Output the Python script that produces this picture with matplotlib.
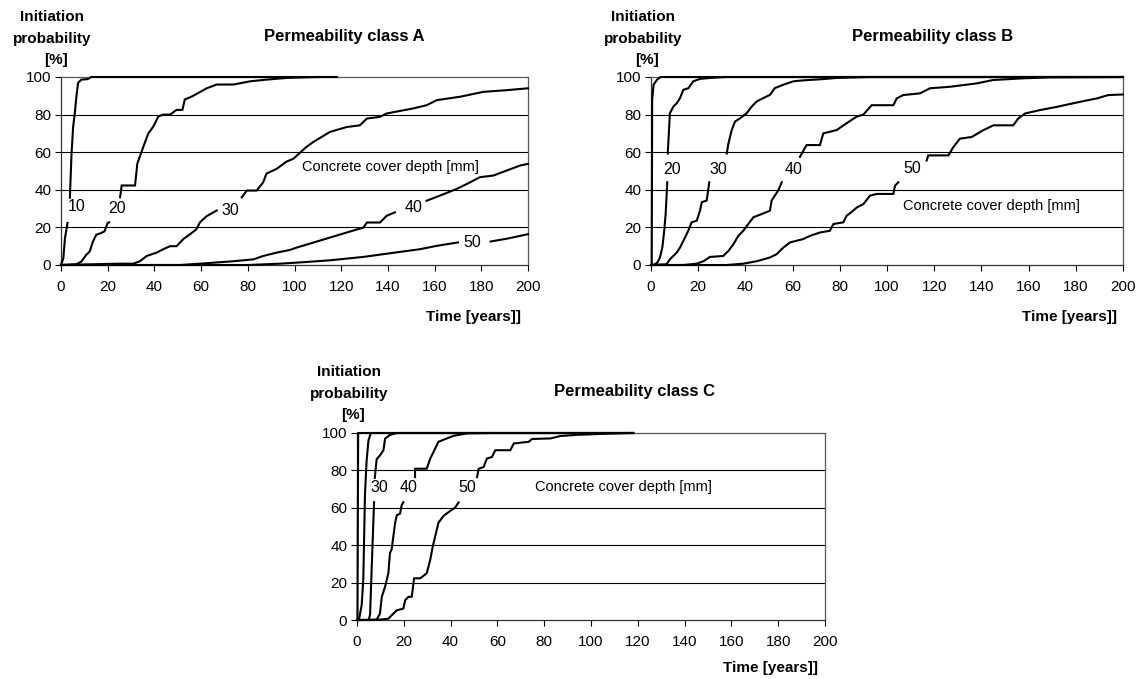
import numpy as np
import matplotlib
matplotlib.use("Agg")
import matplotlib.pyplot as plt

nan = np.nan

# ---------------- DATA ----------------
x_ticks = [0, 20, 40, 60, 80, 100, 120, 140, 160, 180, 200]
y_ticks = [0, 20, 40, 60, 80, 100]
cover_depths = ["10", "20", "30", "40", "50"]

# Permeability class A (time in years, probability in %)
A10_t = [0, 1, 1.7, 2.8, nan, 3.8, 4.5, 5.2, 5.9, 6.6, 7.3, 8.7, 11.5, 13, 118]
A10_p = [0, 3.6, 14.3, 22.4, nan, 35.8, 59, 73.5, 80.6, 89.6, 96.8, 98.6, 98.9, 100, 100]
A20_t = [0, 6.6, 8.7, 10.8, 12.3, 13.7, 15.1, 17.2, 18.6, 20, 20.6, nan,
         25.3, 26, 31.7, 32.7, 35.3, 37.4, 39.5, 41.7, 43.8, 46.7, 49.5, 52, 53, 56,
         59.5, 62.4, 66.7, 73.8, 81, 88, 96.6, 110, 118]
A20_p = [0, 0.4, 1.8, 5.4, 7.2, 12.5, 16.1, 17, 17.9, 22.4, 22.7, nan,
         36, 42.3, 42.3, 54, 63, 70, 73.6, 79, 80, 80, 82.5, 82.5, 88, 89.6,
         92, 94, 96, 96, 97.7, 98.6, 99.5, 100, 100]
A30_t = [0, 24.6, 31, 33.8, 36.7, 41, 43.8, 46.7, 49.5, 52.4, 55.3, 58, 59.5, 62.4, 65.3, 66.7, nan,
         77.4, 79.6, 83.8, 86.6, 88, 92.4, 96.6, 99.5, 105, 108, 115.2, 122.4, 128, 131, 136.6,
         139.5, 150.9, 156.6, 161, 170.9, 180.9, 190.9, 200]
A30_p = [0, 0.7, 0.7, 2, 4.8, 6.6, 8.4, 10, 10, 13.8, 16.4, 19, 22.7, 26, 28, 29, nan,
         36, 39.6, 39.6, 44, 48.6, 51.2, 55, 56.5, 62.7, 65.4, 70.8, 73.4, 74.3, 77.9, 78.8,
         80.6, 83.3, 85, 87.7, 89.5, 92.1, 93, 94]
A40_t = [0, 51, 59.5, 73.8, 82.4, 86.6, 92.4, 98, 101, 108, 115.2, 122.4, 129.5, 131, 136.6, 139.5, 143, nan,
         156.6, 162.3, 169.5, 173.8, 179.4, 185.2, 191, 196.6, 200]
A40_p = [0, 0, 0.7, 2, 3, 4.8, 6.6, 8, 9.3, 11.9, 14.6, 17.3, 19.9, 22.6, 22.6, 26.2, 28, nan,
         34.2, 36.9, 40.5, 43.1, 46.7, 47.6, 50.3, 52.9, 53.8]
A50_t = [0, 80, 93.8, 105, 115.2, 129.5, 143, 153.7, 161, 170, nan, 184, 191, 200]
A50_p = [0, 0, 0.7, 1.6, 2.5, 4.3, 6.6, 8.4, 10.2, 12, nan, 12.5, 14, 16.4]

# Permeability class B
B10_t = [0, 0.3, 0.5, 1.1, 2.6, 4, 200]
B10_p = [0, 0, 88, 96, 98.6, 100, 100]
B20_t = [0, 1, 2.7, 3.8, 4.8, 5.6, 6.2, 6.9, nan,
         7.1, 8, 9.5, 10.9, 12.3, 13.7, 15.8, 17.9, 20.8, 25, 32, 200]
B20_p = [0, 0, 1.3, 4, 9.3, 18.2, 27, 44, nan,
         59.3, 80.7, 84.3, 86, 88.8, 93.2, 94, 97.7, 99, 99.5, 100, 100]
B30_t = [0, 6.6, 8, 10.9, 12.3, 14.4, 15.8, 17.2, 19.4, 20.8, 21.5, 23.6, 24.7, nan,
         32.1, 32.8, 34.2, 35.6, 37.7, 40.5, 42.7, 44.8, 47.6, 50.4, 52.5, 56.1, 60.3,
         64.5, 73, 78.7, 92.8, 200]
B30_p = [0, 0.4, 3, 6.6, 9.3, 14.6, 18.2, 22.7, 23.6, 29, 33.4, 34.3, 44, nan,
         59.3, 64.6, 71.8, 76.3, 78, 80.7, 84.3, 87, 88.8, 90.5, 94.1, 95.9, 97.7,
         98.2, 98.9, 99.5, 100, 100]
B40_t = [0, 13.7, 19.4, 22.2, 25, 30.6, 32.8, 34.9, 37, 39.1, 41.2, 43.4, 46.9, 50.4, 51.1, 53.9, 55.4, nan,
         63.1, 65.9, 71.6, 73, 78.7, 82.9, 87.1, 90, 93.5, 102.7, 104.1, 106.9, 114, 118.2,
         126.7, 138, 145, 157.8, 169, 200]
B40_p = [0, 0, 0.7, 2, 4.3, 4.8, 7.5, 11, 15.5, 18.2, 21.8, 25.4, 27.1, 28.9, 34.3, 39.6, 44, nan,
         57.5, 63.8, 63.8, 70, 71.8, 75.4, 78.9, 80, 85, 85, 88.6, 90.4, 91.3, 94,
         94.8, 96.6, 98.4, 99.3, 99.8, 100]
B50_t = [0, 32.1, 39.1, 44.8, 50.4, 53.2, 56.1, 58.9, 64.5, 67.4, 71.6, 75.8, 77.3, 81.5, 82.9,
         85.7, 87.2, 90, 92.8, 95.6, 102.7, 103.4, 104.8, nan,
         116.8, 117.5, 126, 128.1, 130.9, 135.9, 140.8, 145.1, 153.5, 155.6, 158.5, 164.8,
         171.9, 181.8, 188.9, 193.8, 200]
B50_p = [0, 0, 0.7, 2, 4, 5.7, 9.3, 12, 13.8, 15.5, 17.3, 18.2, 21.8, 22.7, 26.2,
         28.9, 30.6, 32.4, 36.9, 37.8, 37.8, 42.2, 44, nan,
         55.6, 58.3, 58.3, 62.7, 67.2, 68.1, 71.7, 74.3, 74.3, 77.9, 80.6, 82.4,
         84.1, 86.8, 88.6, 90.4, 90.7]

# Permeability class C
C10_t = [0, 0.2, 0.5, 118]
C10_p = [0, 0, 100, 100]
C20_t = [0, 0.8, 2, 2.7, 3.4, 4.1, 4.9, 5.9, 118]
C20_p = [0, 0, 8, 22, 67, 85, 96, 100, 100]
C30_t = [0, 5, 5.6, 6.3, 7.3, nan, 7.6, 8.4, 9.8, 11.3, 12, 14.1, 17, 118]
C30_p = [0, 0, 3, 28.6, 63, nan, 76, 86, 88, 90.8, 97, 99, 100, 100]
C40_t = [0, 5.6, 8.4, 9.8, 10.6, 12, 13.4, 14.1, 14.8, 16.3, 17, 18.4, 19.1, 19.8, nan,
         24.8, 24.8, 29.8, 31.3, 32.7, 34.8, 38.4, 41.3, 47, 57, 118]
C40_p = [0, 0, 0.2, 3.4, 12.4, 17.8, 25, 35.9, 37.7, 52, 56, 56.9, 61.4, 63, nan,
         76.4, 80.9, 80.9, 86.3, 89.9, 95.3, 97.1, 98.5, 99.8, 100, 100]
C50_t = [0, 9.8, 13.4, 14.8, 17, 19.8, 20.6, 22, 23.4, 24.4, 27, 29.8, 31.3, 32.4, 33.8, 34.8,
         37, 39.9, 42, 43.4, nan,
         51.3, 52, 54.1, 55.5, 57.7, 59.1, 65.5, 67, 73.4, 74.8, 82.7, 87, 94, 104, 117, 118]
C50_p = [0, 0.2, 0.7, 2.5, 5.2, 6.1, 10.6, 12.4, 12.4, 22.3, 22.3, 25, 32.2, 39.5, 46.7, 52,
         55.7, 58.4, 60.2, 62.9, nan,
         76.4, 80.9, 81.8, 86.3, 87.2, 90.8, 90.8, 94.4, 95.3, 96.8, 97.1, 98.4, 99, 99.5, 100, 100]

panels = {
    "A": [(A10_t, A10_p), (A20_t, A20_p), (A30_t, A30_p), (A40_t, A40_p), (A50_t, A50_p)],
    "B": [(B10_t, B10_p), (B20_t, B20_p), (B30_t, B30_p), (B40_t, B40_p), (B50_t, B50_p)],
    "C": [(C10_t, C10_p), (C20_t, C20_p), (C30_t, C30_p), (C40_t, C40_p), (C50_t, C50_p)],
}
labelled = {"A": ["10", "20", "30", "40", "50"],
            "B": ["20", "30", "40", "50"],
            "C": ["30", "40", "50"]}
cover_text = "Concrete cover depth [mm]"

# ---------------- LAYOUT ----------------
W, H = 1141, 679
plt.rcParams['font.family'] = ['Liberation Sans', 'DejaVu Sans']
fig = plt.figure(figsize=(W / 100, H / 100), dpi=100)

def fr(l, t, r, b):
    return [l / W, 1 - b / H, (r - l) / W, (b - t) / H]

axes_px = {"A": (61, 77, 528, 265), "B": (651, 77, 1123, 265), "C": (357, 433, 825, 620)}
label_pos = {
    "A": {"10": (6.7, 31), "20": (23.8, 30), "30": (72.4, 29), "40": (150.9, 30.6), "50": (176, 12)},
    "B": {"20": (8.8, 50.7), "30": (28.5, 50.7), "40": (60.3, 50.7), "50": (110.5, 51.2)},
    "C": {"30": (9.5, 71), "40": (22, 71), "50": (47, 71)},
}
cover_pos = {"A": (141, 52), "B": (144.3, 31.6), "C": (113.7, 71)}
title_pos = {"A": (344, 37), "B": (933, 37), "C": (634, 392)}
ylab_pos = {"A": (52, 17), "B": (643, 17), "C": (349, 372)}
xlab_pos = {"A": (521, 317), "B": (1117, 317), "C": (818, 668)}

for key in ["A", "B", "C"]:
    ax = fig.add_axes(fr(*axes_px[key]))
    ax.set_xlim(0, 200)
    ax.set_ylim(0, 100)
    ax.set_xticks(x_ticks)
    ax.set_yticks(y_ticks)
    for yv in y_ticks[1:-1]:
        ax.axhline(yv, color="black", lw=0.8, zorder=1)
    for s in ax.spines.values():
        s.set_color("#555555")
        s.set_linestyle((0, (1, 1)))
        s.set_linewidth(0.9)
    ax.spines["left"].set_linestyle("-")
    ax.spines["left"].set_color("#333333")
    ax.spines["bottom"].set_linestyle("-")
    ax.spines["bottom"].set_color("#333333")
    ax.tick_params(axis="x", direction="out", length=4, width=0.8, labelsize=11, pad=7)
    ax.tick_params(axis="y", direction="out", length=4, width=0.8, labelsize=11, pad=3)
    for t, p in panels[key]:
        ax.plot(t, p, color="black", lw=1.5, zorder=3, clip_on=False,
                solid_joinstyle="miter")
    for lab in labelled[key]:
        x, y = label_pos[key][lab]
        ax.text(x, y, lab, fontsize=11.5, ha="center", va="center", zorder=4)
    cx, cy = cover_pos[key]
    ax.text(cx, cy, cover_text, fontsize=10.5, ha="center", va="center", zorder=4)

    tx, ty = title_pos[key]
    fig.text(tx / W, 1 - ty / H, f"Permeability class {key}", fontsize=12,
             fontweight="bold", ha="center", va="center")
    lx, ly = ylab_pos[key]
    for i, line in enumerate(["Initiation", "probability", "[%]"]):
        fig.text((lx + (4 if i == 2 else 0)) / W, 1 - (ly + 21.5 * i) / H, line,
                 fontsize=11, fontweight="bold", ha="center", va="center")
    xx, xy = xlab_pos[key]
    fig.text(xx / W, 1 - xy / H, "Time [years]]", fontsize=11, fontweight="bold",
             ha="right", va="center")

fig.savefig("out.png", dpi=100, facecolor="white")
